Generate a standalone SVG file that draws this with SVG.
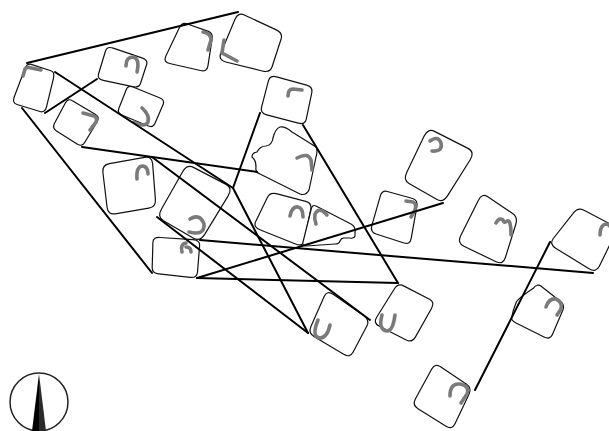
<svg xmlns="http://www.w3.org/2000/svg" width="609" height="431" viewBox="0 0 609 431">
<style>
.box{fill:#fff;stroke:#111;stroke-width:1.2;stroke-linejoin:round}
.mk{fill:none;stroke:#7a7a7a;stroke-width:3.6;stroke-linecap:round;stroke-linejoin:round}
.ln{stroke:#000;stroke-width:2;fill:none;stroke-linecap:round}
</style>
<rect width="609" height="431" fill="#fff"/>
<g id="nodes">
<g id="nA"><path class="box" d="M24.8,69 Q27,63 31.2,64.4 L50.8,70.7 Q55,72 53.5,78.2 L46.5,106.9 Q45,113 40,111.5 L17,104.5 Q12,103 14.2,97 Z"/><path class="mk" d="M23,76 L25,69 Q26,67 29,67.5 L41,70"/></g>
<g id="nB"><path class="box" d="M105.5,51 Q107,46 113.2,48.1 L141.9,57.9 Q148,60 146.7,64.2 L140.4,83.8 Q139,88 132.7,86.7 L103.3,80.4 Q97,79 98.5,74 Z"/><path class="mk" d="M126,66 Q126,57 133,57 Q140,58 137,72"/></g>
<g id="nC"><path class="box" d="M126.4,89.2 Q128,85 133.6,87.3 L159.5,97.8 Q165,100 163.2,104.2 L154.8,123.8 Q153,128 147.6,125.8 L122.4,115.3 Q117,113 118.7,108.8 Z"/><path class="mk" d="M142,108 Q150,115 148,122 Q145,128 134,122"/></g>
<g id="nD"><path class="box" d="M179.2,28 Q182,22 186.7,23.7 L208.4,31.4 Q213,33 212.1,38.9 L207.9,66.2 Q207,72 200.4,70.5 L169.6,63.5 Q163,62 165.9,56 Z"/><path class="mk" d="M203,32 Q211,33 211,40 L208,50"/></g>
<g id="nE"><path class="box" d="M235,19.2 Q238,12 244.8,15.2 L276.3,29.9 Q283,33 281.1,39 L272,67 Q270,73 262.2,71 L225.8,62 Q218,60 221,52.8 Z"/><path class="mk" d="M224,40 L222,53 L237,61"/></g>
<g id="nF"><path class="box" d="M268.5,80.7 Q270,75 276.5,76.8 L306.6,85.2 Q313,87 311.8,92.7 L306.2,119.3 Q305,125 298.3,123.2 L266.8,114.8 Q260,113 261.5,107.3 Z"/><path class="mk" d="M288,96 Q288,89 293,89 L302,90"/></g>
<g id="nG"><path class="box" d="M65.6,102.5 Q68,98 72.8,100.9 L95.2,114.2 Q100,117 97.3,121.5 L84.7,142.5 Q82,147 77.5,144.2 L56.5,130.9 Q52,128 54.4,123.5 Z"/><path class="mk" d="M83,113 L94,116 Q98,118 96,122 L90,130"/></g>
<g id="nH"><path class="box" d="M102.9,172.5 Q102,165 109.5,163.7 L144.5,157.4 Q152,156 152.6,163.7 L155.4,199.4 Q156,207 148.8,208.2 L115.2,213.8 Q108,215 107.1,207.5 Z"/><path class="mk" d="M137,179 Q136,166 143,166 Q148,167 148,174"/></g>
<g id="nI"><path class="box" d="M182.5,172 Q187,164 193.9,167.6 L226.1,184.4 Q233,188 228,196.1 L205,233.9 Q200,242 193.6,238.3 L163.5,220.8 Q157,217 161.5,209 Z"/><path class="mk" d="M190,219 Q200,213 204,224 Q205,236 189,232"/></g>
<g id="nJ"><path class="box" d="M152.9,242.4 Q153,237 160,237.5 L193,239.6 Q200,240 199.6,245.7 L197.5,272.3 Q197,278 190.3,277.3 L158.8,273.8 Q152,273 152.2,267.6 Z"/><path class="mk" d="M182,252 Q180,244 186,243 M186,247 Q191,247 191,252"/></g>
<g id="nK"><path class="box" d="M280,127 Q285,126 292,132 Q305,140 316,147 Q318,150 316,157 L309,190 Q306,196 300,194 L260,174 Q255,172 256,167 Q256,160 252,157 Q252,153 257,152 Q260,146 266,146 Q272,145 273,138 Q275,129 280,127 Z"/><path class="mk" d="M297,158 Q308,152 311,160 L312,170"/></g>
<g id="nL"><path class="box" d="M267.5,197.3 Q270,192 276.3,193.7 L305.7,201.4 Q312,203 310.7,209.6 L304.4,240.4 Q303,247 295.5,244 L260.5,230 Q253,227 255.6,221.8 Z"/><path class="mk" d="M290,216 Q292,206 298,207 Q303,208 303,217"/></g>
<g id="nM"><path class="box" d="M316,206 L351,224 Q356,227 355,232 L355,236 Q354,239 350,238 L344,238 Q341,238 340,241 Q339,244 335,244 L306,246 Q302,246 303,242 L311,210 Q312,204 316,206 Z"/><path class="mk" d="M327,215 Q319,206 315,214 Q314,219 316,224"/></g>
<g id="nN"><path class="box" d="M380.2,196.3 Q382,190 387.4,191.5 L412.6,198.5 Q418,200 416.8,206.8 L411.2,238.3 Q410,245 404,243 L376,234 Q370,232 371.8,225.7 Z"/><path class="mk" d="M406,201 L413,202 Q417,204 415,210 L411,217"/></g>
<g id="nO"><path class="box" d="M424.3,135.8 Q428,128 435,131.6 L468,148.4 Q475,152 470.2,159.7 L447.8,195.4 Q443,203 437,199.6 L409,183.5 Q403,180 406.8,172.2 Z"/><path class="mk" d="M430,141 Q438,135 441,143 Q443,152 432,151"/></g>
<g id="nP"><path class="box" d="M478.3,200.5 Q482,193 487.4,196.6 L512.6,213.4 Q518,217 515.8,224.2 L505.3,257.8 Q503,265 496.1,261.7 L463.9,246.3 Q457,243 460.8,235.5 Z"/><path class="mk" d="M496,223 Q499,217 503,220 Q504,224 507,221 Q511,219 511,235"/></g>
<g id="nQ"><path class="box" d="M573.7,212.6 Q578,207 584,210.2 L612,224.9 Q618,228 614.7,234.8 L599.3,266.3 Q596,273 589,268.7 L556,248.4 Q549,244 553.3,238.5 Z"/><path class="mk" d="M600,235 Q600,225 606,224 Q609,224 611,228"/></g>
<g id="nR"><path class="box" d="M533,288.6 Q537,283 541.2,286.3 L560.8,301.7 Q565,305 562.8,310.3 L552.3,334.8 Q550,340 544,337 L516,323 Q510,320 512,316 Q513,310 516,303 Q516,300 533,288.6 Z"/><path class="mk" d="M546,307 Q549,298 556,299 Q563,302 561,309 L557,315"/></g>
<g id="nS"><path class="box" d="M431.6,369.3 Q435,363 440.6,366.8 L466.5,384.3 Q472,388 469,394.3 L455,423.7 Q452,430 446,426.3 L418,408.8 Q412,405 415.5,398.7 Z"/><path class="mk" d="M450,396 Q450,383 460,384 Q470,386 467,394 L461,403"/></g>
<g id="nT"><path class="box" d="M324.2,296.5 Q327,290 333.5,294.5 L363.6,315.5 Q370,320 367,325.7 L353,352.3 Q350,358 343.7,354.3 L314.3,336.8 Q308,333 310.9,326.5 Z"/><path class="mk" d="M318,320 Q311,337 320,338 Q327,338 330,325"/></g>
<g id="nU"><path class="box" d="M394.3,289 Q398,283 403.6,285.9 L429.5,299.2 Q435,302 431.6,308.2 L415.5,336.9 Q412,343 406.2,340 L378.9,326 Q373,323 376.8,317 Z"/><path class="mk" d="M382,315 Q378,330 387,331 Q393,331 395,315"/></g>
</g>
<g id="connectors">
<path class="ln" d="M27,63 L238,12"/>
<path class="ln" d="M45,113 L97,79"/>
<path class="ln" d="M22,108 L152,273"/>
<path class="ln" d="M55,72 L233,188"/>
<path class="ln" d="M260,113 L233,188"/>
<path class="ln" d="M233,188 L308,333"/>
<path class="ln" d="M157,217 L308,333"/>
<path class="ln" d="M152,157 L370,320"/>
<path class="ln" d="M82,147 L257,172"/>
<path class="ln" d="M303,125 L398,283"/>
<path class="ln" d="M200,240 L593,273"/>
<path class="ln" d="M197,278 L398,283"/>
<path class="ln" d="M197,278 L443,203"/>
<path class="ln" d="M550,242 L475,390"/>
</g>
<g id="north">
<circle cx="39" cy="402" r="29" fill="none" stroke="#222" stroke-width="1.5"/>
<polygon points="39,374 32,431 39,431" fill="#000"/>
<polygon points="39,374 46,431 39,431" fill="#2a2a2a"/>
</g>
</svg>
